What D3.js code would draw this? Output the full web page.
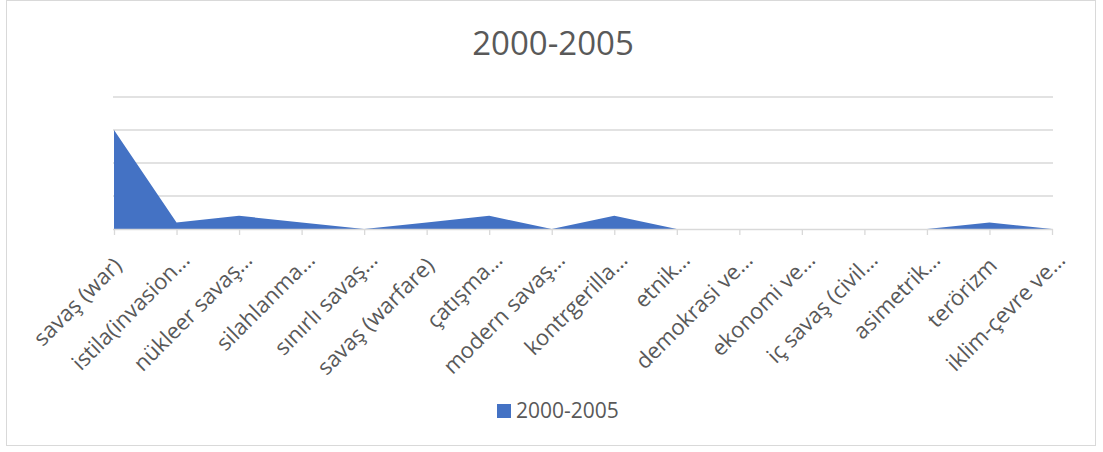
<!DOCTYPE html>
<html><head><meta charset="utf-8">
<script src="https://cdn.jsdelivr.net/npm/d3@7"></script>
<style>body{margin:0;background:#fff;} text{font-family:"Open Sans",sans-serif;}</style>
</head><body>
<svg id="c" width="1103" height="452"></svg>
<script>
const categories = ["savaş (war)","istila(invasion…","nükleer savaş…","silahlanma…","sınırlı savaş…","savaş (warfare)","çatışma…","modern savaş…","kontrgerilla…","etnik…","demokrasi ve…","ekonomi ve…","iç savaş (civil…","asimetrik…","terörizm","iklim-çevre ve…"];
const values = [15,1,2,1,0,1,2,0,2,0,0,0,0,0,1,0];
const yTicks = [0,5,10,15,20];
const seriesName = "2000-2005";
const title = "2000-2005";

const svg = d3.select("#c");
svg.append("rect").attr("x",6.5).attr("y",0.5).attr("width",1089).attr("height",445).attr("fill","#fff").attr("stroke","#d9d9d9");

const x = d3.scalePoint().domain(categories).range([114,1052]);
const y = d3.scaleLinear().domain([0,20]).range([229,97]);

svg.append("g").selectAll("line").data(yTicks.slice(1)).join("line")
  .attr("x1",113).attr("x2",1053).attr("y1",d=>y(d)).attr("y2",d=>y(d))
  .attr("stroke","#d9d9d9").attr("stroke-width",1.3);

const area = d3.area().x((d,i)=>x(categories[i])).y0(y(0)).y1(d=>y(d));
svg.append("path").datum(values).attr("d",area).attr("fill","#4472c4");

const xAxis = d3.axisBottom(x).tickSize(6).tickFormat("");
const g = svg.append("g").attr("transform",`translate(0,${y(0)})`).call(xAxis);
g.select(".domain").attr("stroke","#d9d9d9").attr("stroke-width",1.3).attr("d","M113,0.5H1053");
g.selectAll(".tick line").attr("stroke","#d9d9d9").attr("stroke-width",1.3);

svg.append("g").selectAll("text").data(categories).join("text")
  .attr("transform",d=>`translate(${x(d)+9},${y(0)+38}) rotate(-45)`)
  .attr("dx",d=>d.endsWith("…")?8:0)
  .attr("text-anchor","end").attr("font-size",22).attr("fill","#595959")
  .text(d=>d);

svg.append("text").attr("x",553).attr("y",55).attr("text-anchor","middle")
  .attr("font-size",33).attr("fill","#595959").text(title);

svg.append("rect").attr("x",497).attr("y",404).attr("width",14).attr("height",14).attr("fill","#4472c4");
svg.append("text").attr("x",516).attr("y",418).attr("font-size",21).attr("fill","#595959").text(seriesName);
</script>
</body></html>
